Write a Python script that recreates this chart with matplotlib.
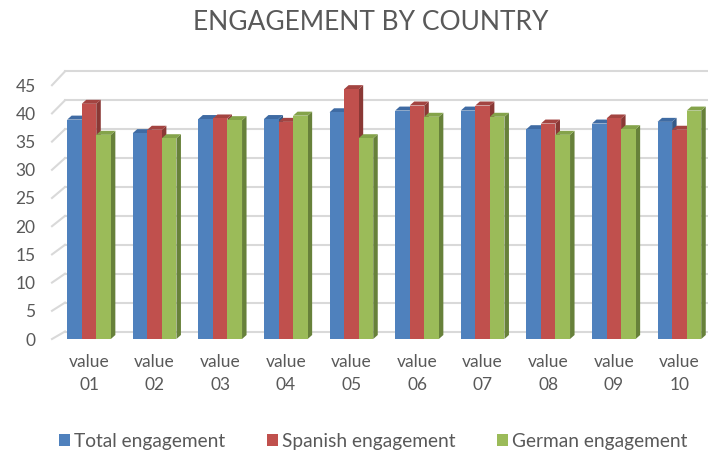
import numpy as np
import matplotlib
matplotlib.use('Agg')
import matplotlib.pyplot as plt
from matplotlib.patches import Rectangle, Polygon, Patch

plt.rcParams['font.family'] = ['Lato', 'DejaVu Sans']

categories = ['value\n01', 'value\n02', 'value\n03', 'value\n04', 'value\n05',
              'value\n06', 'value\n07', 'value\n08', 'value\n09', 'value\n10']
series_names = ['Total engagement', 'Spanish engagement', 'German engagement']
total = [38.9, 36.5, 39.0, 39.0, 40.2, 40.5, 40.5, 37.2, 38.2, 38.5]
spanish = [41.7, 37.1, 39.1, 38.5, 44.3, 41.4, 41.4, 38.2, 39.1, 37.1]
german = [36.2, 35.6, 38.8, 39.6, 35.6, 39.4, 39.4, 36.2, 37.2, 40.5]
yticks = [0, 5, 10, 15, 20, 25, 30, 35, 40, 45]

front = ['#4F81BD', '#C0504D', '#9BBB59']
top = ['#3F6BA3', '#A34441', '#84A34A']
side = ['#355A87', '#8A3835', '#67813A']
gray = '#595959'

pxy = 5.64  # pixels per unit on value axis
fig = plt.figure(figsize=(7.08, 4.54), dpi=100)
# axes: left 55px, right 708px, bottom 339px, top 60px
ax = fig.add_axes([55/708, (454-339)/454, (708-55)/708, 279/454])
xlo, xhi = (55-89)/65.6, (708-89)/65.6
ax.set_xlim(xlo, xhi)
ax.set_ylim(0, 279/pxy)

w = 0.222
dx, dy = 4.5/65.6, 4/pxy
data = [total, spanish, german]

# back wall gridlines with diagonal ticks
for v in yticks:
    off = (7.5 + 0.14*v)/pxy
    ax.plot([xlo + 10/65.6, xhi + 1], [v + off, v + off], color='#D9D9D9', lw=1.5,
            zorder=1, clip_on=False)
    ax.plot([xlo - 3/65.6, xlo + 10/65.6], [v, v + off], color='#D9D9D9', lw=1.5,
            zorder=1, clip_on=False)

x = np.arange(len(categories))
for j, vals in enumerate(data):
    for i, h in enumerate(vals):
        x0 = x[i] + (j-1)*w - w/2
        x1 = x0 + w
        z = 3 + j
        ax.add_patch(Polygon([(x1, 0), (x1+dx, dy), (x1+dx, h+dy), (x1, h)],
                             closed=True, fc=side[j], ec='none', zorder=z))
        ax.add_patch(Polygon([(x0, h), (x1, h), (x1+dx, h+dy), (x0+dx, h+dy)],
                             closed=True, fc=top[j], ec='none', zorder=z))
        ax.add_patch(Rectangle((x0, 0), w, h, fc=front[j], ec='none', zorder=z))

ax.set_yticks(yticks)
ax.set_yticklabels([str(v) for v in yticks], fontsize=12.5, color=gray)
ax.set_xticks(x)
ax.set_xticklabels(categories, fontsize=12.5, color=gray, linespacing=1.55)
ax.tick_params(axis='y', length=0, pad=14)
ax.tick_params(axis='x', length=0, pad=11)
for s in ax.spines.values():
    s.set_visible(False)

fig.text(0.524, 0.951, 'ENGAGEMENT BY COUNTRY', ha='center', va='center',
         fontsize=19, color=gray)

handles = [Patch(fc=c, ec='none') for c in front]
fig.legend(handles, series_names, loc='center', bbox_to_anchor=(0.527, 1 - 441/454),
           ncol=3, frameon=False, fontsize=13.8, labelcolor=gray,
           handlelength=0.6, handleheight=0.6, handletextpad=0.2,
           columnspacing=2.15)

fig.savefig('out.png', dpi=100)
